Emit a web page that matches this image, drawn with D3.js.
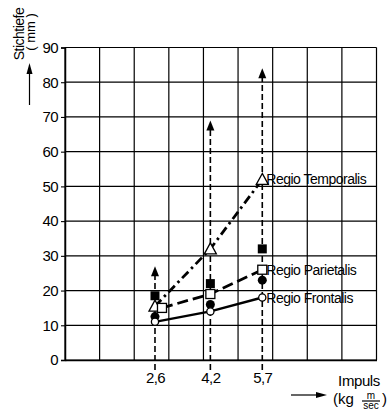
<!DOCTYPE html>
<html>
<head>
<meta charset="utf-8">
<script src="https://cdn.jsdelivr.net/npm/d3@7"></script>
<style>
  body { margin: 0; background: #fff; }
  svg text { font-family: 'Liberation Sans', Arial, sans-serif; fill: #000; }
</style>
</head>
<body>
<svg id="chart" width="389" height="413"></svg>
<script>
// Impuls values (kg m/sec)
const impulse = [2.6, 4.2, 5.7];
// Stichtiefe (mm) per region
const frontalis = [11, 14, 18];
const parietalis = [15, 19, 26];
const temporalis = [15.5, 32, 52];
// extra measured points
const filledSquares = [18.5, 22, 32];
const filledCircles = [12.5, 16, 23];
// arrow tips (maximum depth)
const arrowTips = [27, 69, 84];
const yTicks = [0, 10, 20, 30, 40, 50, 60, 70, 80, 90];
const seriesLabels = ['Regio Temporalis', 'Regio Parietalis', 'Regio Frontalis'];

const svg = d3.select('#chart');
const margin = { top: 47.5, bottom: 53, left: 65, right: 12.5 };
const width = 389, height = 413;

const x = d3.scaleLinear().domain([0, 9]).range([margin.left, width - margin.right]);
const y = d3.scaleLinear().domain([0, 90]).range([height - margin.bottom, margin.top]);

const fmt = d3.formatLocale({ decimal: ',', thousands: '.', grouping: [3], currency: ['', ''] }).format('.1f');

// grid
const grid = svg.append('g').attr('stroke', '#000').attr('stroke-width', 1.2);
grid.selectAll('line.v')
  .data(d3.range(0, 10))
  .join('line')
  .attr('x1', d => x(d)).attr('x2', d => x(d))
  .attr('y1', y(0)).attr('y2', y(90));
grid.selectAll('line.h')
  .data(yTicks)
  .join('line')
  .attr('x1', x(0)).attr('x2', x(9))
  .attr('y1', d => y(d)).attr('y2', d => y(d));

// y axis
svg.append('g')
  .attr('transform', `translate(${x(0)}, 0)`)
  .call(d3.axisLeft(y).tickValues(yTicks).tickSize(4).tickPadding(3))
  .call(g => g.select('.domain').attr('stroke-width', 1.5))
  .call(g => g.selectAll('line').attr('stroke-width', 1.1))
  .selectAll('text')
  .style('font-size', '15px')
  .style('letter-spacing', '-0.6px');

// x axis
svg.append('g')
  .attr('transform', `translate(0, ${y(0)})`)
  .call(d3.axisBottom(x).tickValues(impulse).tickFormat(fmt).tickSize(0).tickPadding(12))
  .call(g => g.select('.domain').attr('stroke-width', 1.5))
  .selectAll('text')
  .style('font-size', '15px')
  .style('letter-spacing', '-0.6px');

// dashed verticals with arrows
const arrows = svg.append('g');
arrows.selectAll('line')
  .data(impulse)
  .join('line')
  .attr('x1', d => x(d)).attr('x2', d => x(d))
  .attr('y1', y(0) + 10)
  .attr('y2', (d, i) => y(arrowTips[i]) + 6)
  .attr('stroke', '#000')
  .attr('stroke-width', 1.6)
  .attr('stroke-dasharray', '6,3');
arrows.selectAll('path')
  .data(impulse)
  .join('path')
  .attr('d', (d, i) => {
    const cx = x(d), ty = y(arrowTips[i]);
    return `M${cx},${ty} L${cx - 4},${ty + 10} L${cx + 4},${ty + 10} Z`;
  })
  .attr('fill', '#000');

// series lines
const line = (vals, dx) => d3.line()
  .x((d, i) => x(impulse[i]) + (i === 0 ? dx : 0))
  .y(d => y(d))(vals);

svg.append('path').attr('d', line(temporalis, 0))
  .attr('fill', 'none').attr('stroke', '#000').attr('stroke-width', 2.8)
  .attr('stroke-dasharray', '9,4,2.5,4');
svg.append('path').attr('d', line(parietalis, 7))
  .attr('fill', 'none').attr('stroke', '#000').attr('stroke-width', 2.8)
  .attr('stroke-dasharray', '11,5');
svg.append('path').attr('d', line(frontalis, 0))
  .attr('fill', 'none').attr('stroke', '#000').attr('stroke-width', 2.4);

// filled markers
svg.append('g').selectAll('rect')
  .data(filledSquares)
  .join('rect')
  .attr('x', (d, i) => x(impulse[i]) - 4.5)
  .attr('y', d => y(d) - 4.5)
  .attr('width', 9).attr('height', 9)
  .attr('fill', '#000');
svg.append('g').selectAll('circle')
  .data(filledCircles)
  .join('circle')
  .attr('cx', (d, i) => x(impulse[i]))
  .attr('cy', d => y(d))
  .attr('r', 4.5)
  .attr('fill', '#000');

// open markers
svg.append('g').selectAll('path')
  .data(temporalis)
  .join('path')
  .attr('d', (d, i) => {
    const cx = x(impulse[i]), cy = y(d);
    return `M${cx},${cy - 6} L${cx - 6},${cy + 5} L${cx + 6},${cy + 5} Z`;
  })
  .attr('fill', '#fff').attr('stroke', '#000').attr('stroke-width', 1.3);
svg.append('g').selectAll('rect')
  .data(parietalis)
  .join('rect')
  .attr('x', (d, i) => x(impulse[i]) + (i === 0 ? 7 : 0) - 4.5)
  .attr('y', d => y(d) - 4.5)
  .attr('width', 9).attr('height', 9)
  .attr('fill', '#fff').attr('stroke', '#000').attr('stroke-width', 1.3);
svg.append('g').selectAll('circle')
  .data(frontalis)
  .join('circle')
  .attr('cx', (d, i) => x(impulse[i]))
  .attr('cy', d => y(d))
  .attr('r', 3.6)
  .attr('fill', '#fff').attr('stroke', '#000').attr('stroke-width', 1.3);

// series labels
const lastVals = [temporalis[2], parietalis[2], frontalis[2]];
svg.append('g').selectAll('text')
  .data(seriesLabels)
  .join('text')
  .attr('x', x(impulse[2]) + 4)
  .attr('y', (d, i) => y(lastVals[i]) + 5)
  .style('font-size', '14px')
  .style('letter-spacing', '-0.5px')
  .text(d => d);

// y title
const yt = svg.append('g');
yt.append('text')
  .attr('transform', 'translate(24, 34) rotate(-90)')
  .attr('text-anchor', 'middle')
  .style('font-size', '14px')
  .style('letter-spacing', '-0.5px')
  .text('Stichtiefe');
yt.append('text')
  .attr('transform', 'translate(35, 32) rotate(-90)')
  .attr('text-anchor', 'middle')
  .style('font-size', '13px')
  .text('( mm )');
yt.append('line')
  .attr('x1', 29.5).attr('x2', 29.5).attr('y1', 105).attr('y2', 72)
  .attr('stroke', '#000').attr('stroke-width', 1.2);
yt.append('path')
  .attr('d', 'M29.5,63 L26.5,74 L32.5,74 Z').attr('fill', '#000');

// x title
const xt = svg.append('g');
xt.append('text')
  .attr('x', 359).attr('y', 386)
  .attr('text-anchor', 'middle')
  .style('font-size', '15px')
  .style('letter-spacing', '-0.4px')
  .text('Impuls');
xt.append('line')
  .attr('x1', 291).attr('x2', 318).attr('y1', 395).attr('y2', 395)
  .attr('stroke', '#000').attr('stroke-width', 1.2);
xt.append('path')
  .attr('d', 'M327,395 L316,392 L316,398 Z').attr('fill', '#000');
xt.append('text')
  .attr('x', 333).attr('y', 404)
  .style('font-size', '15px')
  .text('(kg');
xt.append('text')
  .attr('x', 371).attr('y', 399)
  .attr('text-anchor', 'middle')
  .style('font-size', '10px')
  .text('m');
xt.append('line')
  .attr('x1', 362).attr('x2', 380).attr('y1', 401).attr('y2', 401)
  .attr('stroke', '#000').attr('stroke-width', 1.2);
xt.append('text')
  .attr('x', 371).attr('y', 409)
  .attr('text-anchor', 'middle')
  .style('font-size', '10px')
  .text('sec');
xt.append('text')
  .attr('x', 382).attr('y', 404)
  .style('font-size', '15px')
  .text(')');
</script>
</body>
</html>
